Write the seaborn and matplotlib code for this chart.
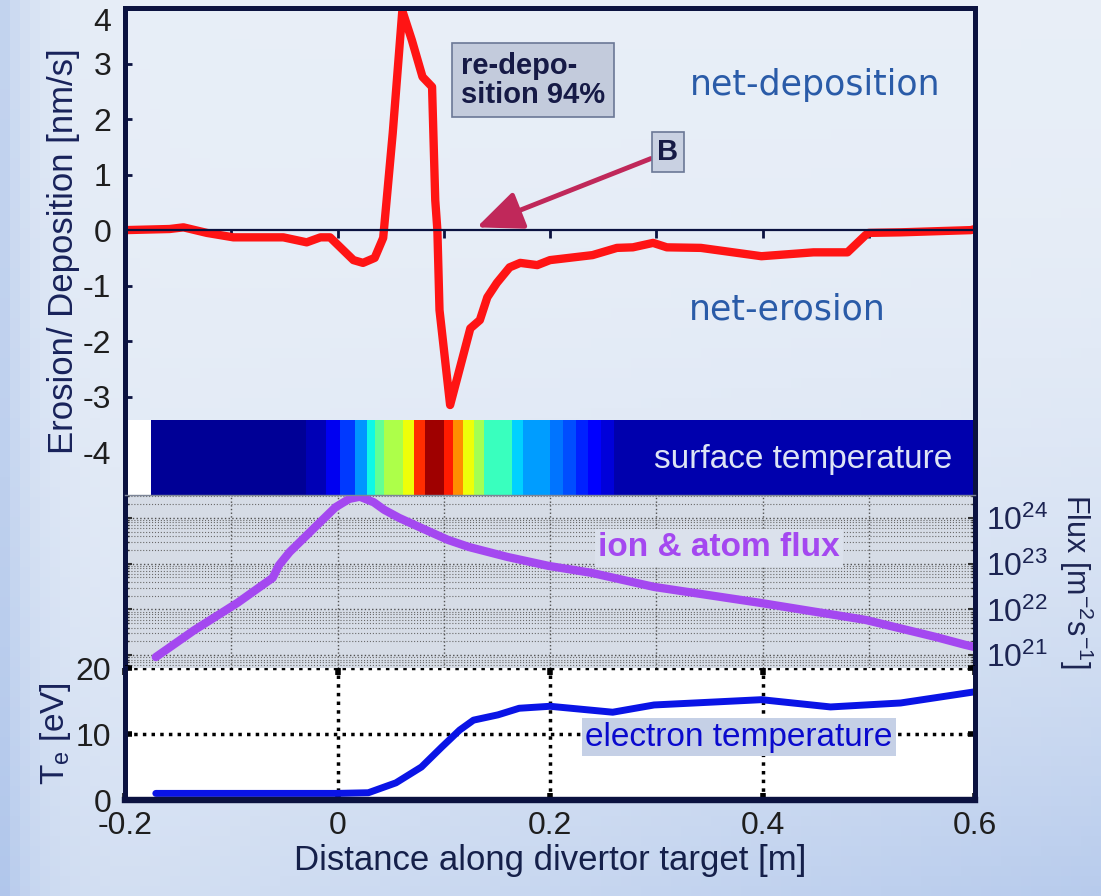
import numpy as np
import matplotlib
matplotlib.use("Agg")
import matplotlib.pyplot as plt
from matplotlib.ticker import MultipleLocator, FixedLocator, LogLocator
import seaborn as sns

# erosion / deposition rate along the target [m] -> [nm/s]
ed_x = [-0.200, -0.158, -0.145, -0.123, -0.098, -0.051, -0.029, -0.016, -0.007,
        0.015, 0.024, 0.035, 0.043, 0.052, 0.061, 0.070, 0.080, 0.089, 0.092,
        0.094, 0.096, 0.106, 0.125, 0.134, 0.141, 0.150, 0.162, 0.172, 0.188,
        0.200, 0.240, 0.263, 0.278, 0.297, 0.310, 0.342, 0.399, 0.448, 0.480,
        0.497, 0.500, 0.530, 0.596, 0.600]
ed_rate = [0.00, 0.02, 0.05, -0.05, -0.13, -0.13, -0.22, -0.13, -0.13,
           -0.54, -0.59, -0.50, -0.14, 1.75, 3.95, 3.42, 2.76, 2.58, 0.54,
           0.00, -1.44, -3.15, -1.77, -1.62, -1.21, -0.95, -0.67, -0.59, -0.63,
           -0.54, -0.45, -0.32, -0.31, -0.23, -0.31, -0.32, -0.47, -0.40, -0.40,
           -0.09, -0.05, -0.04, 0.00, 0.02]

# ion & atom flux [m^-2 s^-1]
flux_x = [-0.171, -0.135, -0.094, -0.061, -0.055, -0.045, -0.022, -0.002, 0.011,
          0.021, 0.034, 0.044, 0.058, 0.077, 0.104, 0.124, 0.160, 0.199, 0.239,
          0.298, 0.397, 0.497, 0.563, 0.590, 0.600]
flux = [9.1e20, 3.5e21, 1.4e22, 4.9e22, 9.3e22, 1.8e23, 6.0e23, 1.7e24, 2.6e24,
        2.9e24, 2.2e24, 1.5e24, 1.0e24, 6.3e23, 3.3e23, 2.3e23, 1.4e23, 8.9e22, 6.3e22,
        3.1e22, 1.4e22, 5.9e21, 2.5e21, 1.7e21, 1.5e21]

# electron temperature [eV]
te_x = [-0.171, 0.000, 0.029, 0.055, 0.079, 0.098, 0.115, 0.128, 0.151, 0.171,
        0.200, 0.259, 0.298, 0.399, 0.464, 0.530, 0.563, 0.600]
te = [1.0, 1.0, 1.1, 2.6, 5.0, 8.0, 10.6, 12.1, 12.9, 13.9,
      14.2, 13.3, 14.4, 15.2, 14.1, 14.7, 15.5, 16.4]

# surface temperature strip (normalised), segment edges in m
surf_edges = [-0.176, -0.030, -0.011, 0.002, 0.016, 0.028, 0.035, 0.044, 0.062,
              0.072, 0.082, 0.100, 0.109, 0.118, 0.128, 0.138, 0.164, 0.175,
              0.200, 0.212, 0.224, 0.236, 0.248, 0.260, 0.600]
surf_temp = [0.02, 0.05, 0.10, 0.18, 0.27, 0.37, 0.47, 0.56, 0.64, 0.86, 0.97,
             0.88, 0.76, 0.64, 0.55, 0.42, 0.33, 0.28, 0.24, 0.20, 0.16, 0.12,
             0.08, 0.04]

x_ticks = [-0.2, 0, 0.2, 0.4, 0.6]
x_tick_labels = ["-0.2", "0", "0.2", "0.4", "0.6"]
ed_ticks = [4, 3, 2, 1, 0, -1, -2, -3, -4]
flux_ticks = [1e21, 1e22, 1e23, 1e24]
te_ticks = [0, 10, 20]

W, H = 1101, 896
NAVY = "#0b1240"
SPINE_W = 3.6


def rect(x0, y0, x1, y1):
    return [x0 / W, 1 - y1 / H, (x1 - x0) / W, (y1 - y0) / H]


def side_spines(ax):
    for side in ("left", "right"):
        ax.spines[side].set_color(NAVY)
        ax.spines[side].set_linewidth(SPINE_W)


sns.set_theme(style="white")
plt.rcParams["font.family"] = ["Liberation Sans", "DejaVu Sans"]
plt.rcParams["mathtext.fontset"] = "custom"
plt.rcParams["mathtext.rm"] = "Liberation Sans"
plt.rcParams["mathtext.it"] = "Liberation Sans:italic"
plt.rcParams["mathtext.bf"] = "Liberation Sans:bold"
plt.rcParams["axes.unicode_minus"] = False

fig = plt.figure(figsize=(W / 100, H / 100), dpi=100)

# soft blue slide background
bg = fig.add_axes([0, 0, 1, 1], zorder=-10)
gy, gx = np.mgrid[0:1:90j, 0:1:110j]
w = np.clip(0.55 * np.exp(-gx / 0.03) + 0.7 * gy ** 2.2 * (0.35 + 0.65 * gx), 0, 1)
light = np.array([0.91, 0.935, 0.97])
blue = np.array([0.64, 0.74, 0.91])
bg.imshow(light * (1 - w[..., None]) + blue * w[..., None], aspect="auto",
          extent=[0, 1, 0, 1], origin="upper")
bg.axis("off")

# erosion / deposition panel
ax_ed = fig.add_axes(rect(125, 8, 975, 495))
ax_ed.patch.set_alpha(0)
sns.lineplot(x=ed_x, y=ed_rate, ax=ax_ed, color="#ff1414", lw=6,
             sort=False, estimator=None)
ax_ed.set_xlim(-0.2, 0.6)
ax_ed.set_ylim(-4.77, 4.0)
side_spines(ax_ed)
ax_ed.spines["top"].set_color(NAVY)
ax_ed.spines["top"].set_linewidth(SPINE_W)
ax_ed.spines["bottom"].set_position(("data", 0))
ax_ed.spines["bottom"].set_color(NAVY)
ax_ed.spines["bottom"].set_linewidth(1.6)
ax_ed.xaxis.set_major_locator(MultipleLocator(0.1))
ax_ed.tick_params(axis="x", bottom=True, direction="out", length=6, width=2,
                  color=NAVY, labelbottom=False)
ax_ed.set_yticks(ed_ticks)
ax_ed.tick_params(axis="y", left=True, direction="in", length=5, width=2,
                  color=NAVY, labelsize=23, labelcolor="#1e1e1e", pad=10)
# top label sits just below the frame, as in the slide
top_idx = ed_ticks.index(max(ed_ticks))
ax_ed.yaxis.get_major_ticks()[top_idx].label1.set_verticalalignment("top")
ax_ed.set_ylabel("Erosion/ Deposition [nm/s]", fontsize=25, color="#18225a", labelpad=2)

ax_ed.text(0.116, 2.70, "re-depo-\nsition 94%", fontsize=21, fontweight="bold",
           color="#161a46", ha="left", va="center", linespacing=1.05,
           bbox=dict(boxstyle="square,pad=0.3", fc="#c3cbdc", ec="#6b7896", lw=1.2))
ax_ed.annotate("B", xy=(0.131, 0.05), xytext=(0.311, 1.41), fontsize=21,
               fontweight="bold", color="#161a46", ha="center", va="center",
               bbox=dict(boxstyle="square,pad=0.2", fc="#c9d1e2", ec="#6b7896", lw=1.2),
               arrowprops=dict(arrowstyle="-|>,head_length=1.4,head_width=0.6",
                               color="#c0285a", lw=3.5, mutation_scale=20,
                               shrinkA=0, shrinkB=0))
ax_ed.text(0.812, 0.842, "net-deposition", transform=ax_ed.transAxes, fontsize=25,
           family="DejaVu Sans", color="#2a5ba8", ha="center", va="center")
ax_ed.text(0.779, 0.380, "net-erosion", transform=ax_ed.transAxes, fontsize=25,
           family="DejaVu Sans", color="#2a5ba8", ha="center", va="center")

# surface temperature strip
ax_strip = fig.add_axes(rect(125, 420, 975, 495))
ax_strip.set_facecolor("white")
ax_strip.pcolormesh(surf_edges, [0, 1], np.array([surf_temp]), cmap="jet",
                    vmin=0, vmax=1, shading="flat")
ax_strip.set_xlim(-0.2, 0.6)
ax_strip.set_ylim(0, 1)
ax_strip.set_xticks([])
ax_strip.set_yticks([])
ax_strip.spines["top"].set_visible(False)
ax_strip.spines["bottom"].set_visible(False)
side_spines(ax_strip)
ax_strip.text(0.438, 0.47, "surface temperature", fontsize=24, color="#dde4f4",
              ha="center", va="center")

# flux panel
ax_flux = fig.add_axes(rect(125, 495, 975, 668))
ax_flux.set_facecolor("#d6dce6")
ax_flux.set_yscale("log")
sns.lineplot(x=flux_x, y=flux, ax=ax_flux, color="#a448f0", lw=6,
             sort=False, estimator=None)
ax_flux.set_xlim(-0.2, 0.6)
ax_flux.set_ylim(10 ** 20.72, 10 ** 24.5)
ax_flux.yaxis.set_major_locator(FixedLocator(flux_ticks))
ax_flux.yaxis.set_minor_locator(LogLocator(base=10, subs=np.arange(2, 10), numticks=100))
ax_flux.xaxis.set_major_locator(MultipleLocator(0.1))
ax_flux.grid(True, which="major", axis="both", ls=":", lw=1.0, color="#505050")
ax_flux.grid(True, which="minor", axis="y", ls=":", lw=0.8, color="#6a6a6a")
ax_flux.tick_params(axis="x", bottom=False, labelbottom=False)
ax_flux.tick_params(axis="y", which="both", left=True, right=True, direction="in",
                    labelleft=False, labelright=True, color="#303030")
ax_flux.tick_params(axis="y", which="major", length=5, width=1.5, labelsize=23,
                    labelcolor="#1c2452", pad=8)
ax_flux.tick_params(axis="y", which="minor", length=3, width=1)
side_spines(ax_flux)
ax_flux.spines["top"].set_color("#7d8698")
ax_flux.spines["top"].set_linewidth(1.0)
ax_flux.spines["bottom"].set_visible(False)
ax_flux.yaxis.set_label_position("right")
ax_flux.set_ylabel("Flux [m$^{-2}$s$^{-1}$]", fontsize=22, color="#1c2452",
                   rotation=270, va="bottom", labelpad=6)
ax_flux.text(0.699, 0.694, "ion & atom flux", transform=ax_flux.transAxes,
             fontsize=24, fontweight="bold", color="#a448f0", ha="center", va="center",
             bbox=dict(boxstyle="square,pad=0.1", fc="#dbe1ec", ec="none"))

# electron temperature panel
ax_te = fig.add_axes(rect(125, 668, 975, 800))
ax_te.set_facecolor("white")
sns.lineplot(x=te_x, y=te, ax=ax_te, color="#0a14e6", lw=5,
             sort=False, estimator=None)
ax_te.set_xlim(-0.2, 0.6)
ax_te.set_ylim(0, 20)
ax_te.set_xticks(x_ticks, labels=x_tick_labels)
ax_te.set_yticks(te_ticks)
ax_te.grid(True, which="major", ls=(0, (1, 1.5)), lw=2.5, color="black")
ax_te.tick_params(axis="both", direction="in", top=True, right=True, bottom=True,
                  left=True, length=5, width=4, color="black", labelsize=23,
                  labelcolor="#1e1e1e")
ax_te.tick_params(axis="x", pad=8)
ax_te.tick_params(axis="y", pad=10)
side_spines(ax_te)
ax_te.spines["bottom"].set_color(NAVY)
ax_te.spines["bottom"].set_linewidth(SPINE_W + 1)
ax_te.spines["top"].set_visible(False)
ax_te.set_xlabel("Distance along divertor target [m]", fontsize=25, color="#15204a",
                 labelpad=2)
ax_te.set_ylabel("T$_\\mathrm{e}$ [eV]", fontsize=24, color="#18225a", labelpad=2)
ax_te.text(0.722, 0.477, "electron temperature", transform=ax_te.transAxes,
           fontsize=24, color="#0a0acd", ha="center", va="center",
           bbox=dict(boxstyle="square,pad=0.1", fc="#c5d0e6", ec="none"))

fig.savefig("out.png", dpi=100)
plt.close(fig)
